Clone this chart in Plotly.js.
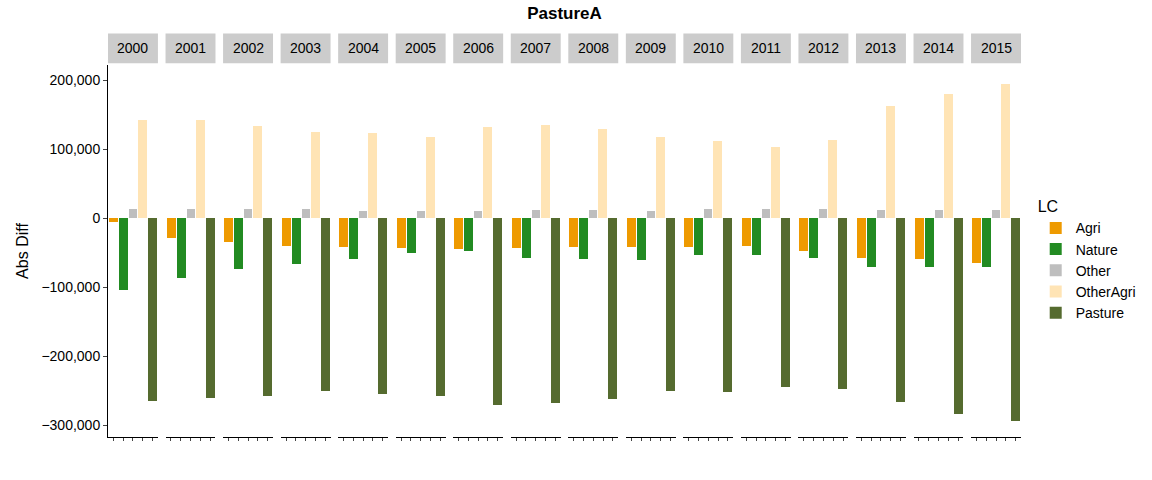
<!DOCTYPE html>
<html><head><meta charset="utf-8">
<script src="https://cdn.plot.ly/plotly-3.0.1.min.js"></script>
<style>body{margin:0;background:#fff}</style>
</head><body>
<div id="chart" style="width:1152px;height:480px"></div>
<script>
// PastureA facet bars: one panel per year
const years = ["2000","2001","2002","2003","2004","2005","2006","2007","2008","2009","2010","2011","2012","2013","2014","2015"];
const classes = ["Agri", "Nature", "Other", "OtherAgri", "Pasture"];
const colors = ["#EE9A00", "#228B22", "#BEBEBE", "#FFE4B5", "#556B2F"];

const agri      = [-5000,-28000,-34000,-40000,-41000,-43000,-45000,-43000,-42000,-42000,-42000,-40000,-48000,-57000,-59000,-65000];
const nature    = [-104000,-87000,-74000,-66000,-59000,-50000,-48000,-57000,-59000,-61000,-54000,-54000,-57000,-71000,-71000,-71000];
const other     = [13000,13000,13000,13000,11000,11000,11000,12000,12000,11000,14000,14000,14000,12000,12000,12000];
const otherAgri = [142000,143000,133000,125000,123000,117000,132000,135000,129000,117000,112000,103000,114000,162000,180000,195000];
const pasture   = [-265000,-260000,-257000,-251000,-254000,-257000,-271000,-268000,-262000,-251000,-252000,-245000,-247000,-267000,-283000,-294000];
const series = [agri, nature, other, otherAgri, pasture];

const W = 1152, L = 108;
const plotW = W - L - 130;
const step = 57.6, panelW = 50;
const font = "Liberation Sans, Arial, sans-serif";

const traces = [];
const layout = {
  width: 1152, height: 480,
  margin: { l: 108, r: 130, t: 65, b: 43 },
  paper_bgcolor: "#fff", plot_bgcolor: "#fff",
  font: { family: font, color: "#000" },
  bargap: 0, bargroupgap: 0,
  title: { text: "<b>PastureA</b>", x: 0.5, xref: "paper", xanchor: "center", y: 0.985, font: { size: 17 } },
  legend: { x: 1.015, y: 0.66, yanchor: "top", title: { text: "LC", font: { size: 16 } }, font: { size: 14 }, tracegroupgap: 0, itemwidth: 30 },
  shapes: [], annotations: [],
  yaxis: {
    range: [-317000, 222000], tickvals: [-300000, -200000, -100000, 0, 100000, 200000],
    tickformat: ",d", showgrid: false, zeroline: false, showline: true, linecolor: "#000",
    ticks: "outside", ticklen: 4, tickfont: { size: 14 },
    title: { text: "Abs Diff", font: { size: 16 }, standoff: 8 }
  }
};

years.forEach((yr, i) => {
  const x0 = (i * step) / plotW;
  const x1 = (i * step + panelW) / plotW;
  const ax = i === 0 ? "" : String(i + 1);
  layout["xaxis" + ax] = {
    domain: [x0, x1], anchor: "y", range: [-0.55, 4.55], showticklabels: false,
    tickvals: [0, 1, 2, 3, 4], ticks: "outside", ticklen: 3, showline: true, linecolor: "#000",
    showgrid: false, zeroline: false
  };
  classes.forEach((c, k) => {
    traces.push({
      type: "bar", x: [k], y: [series[k][i]], width: 0.9,
      marker: { color: colors[k] }, name: c, legendgroup: c, showlegend: i === 0,
      xaxis: "x" + ax, yaxis: "y", hoverinfo: "skip"
    });
  });
  layout.shapes.push({
    type: "rect", xref: "paper", yref: "paper", x0: x0, x1: x1, y0: 1.005, y1: 1.085,
    fillcolor: "#CCCCCC", line: { width: 0 }
  });
  layout.annotations.push({
    text: yr, xref: "paper", yref: "paper", x: (x0 + x1) / 2, y: 1.045,
    showarrow: false, font: { size: 14 }, xanchor: "center", yanchor: "middle"
  });
});

Plotly.newPlot("chart", traces, layout, { displayModeBar: false });
</script>
</body></html>
